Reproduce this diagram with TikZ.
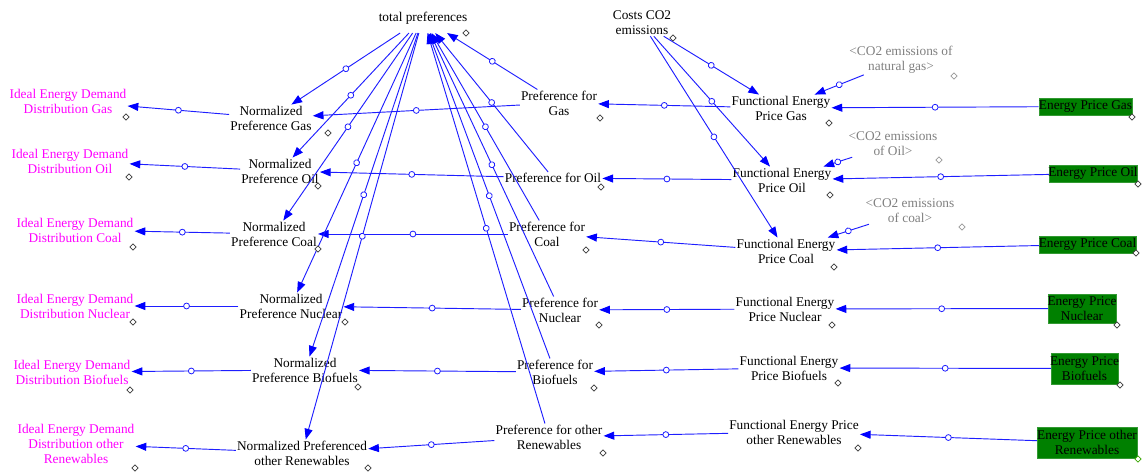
\documentclass[tikz,border=0pt]{standalone}
\usepackage{fontspec}
\setmainfont{Liberation Serif}
\usetikzlibrary{arrows.meta,decorations.markings}
\definecolor{linkblue}{RGB}{30,30,255}
\definecolor{idealpink}{RGB}{255,0,255}
\definecolor{shadowgray}{RGB}{128,128,128}
\definecolor{pricegreen}{RGB}{0,128,0}
\definecolor{markgray}{RGB}{60,60,60}
% a line of text that may overflow its green box
\newcommand{\spill}[1]{\makebox[0pt]{#1}}
\begin{document}
\begin{tikzpicture}[x=0.75pt,y=-0.75pt,
  every node/.style={font=\fontsize{10}{11.25}\selectfont},
  var/.style={align=center, inner sep=0.75pt},
  ideal/.style={var, text=idealpink},
  shadowvar/.style={var, text=shadowgray},
  pricebox/.style={align=center, fill=pricegreen, draw=pricegreen!80!white,
    line width=0.3pt, inner sep=0pt},
  link/.style={draw=linkblue, line width=0.7pt,
    -{Triangle[length=8pt,width=6pt,fill=blue,color=blue]},
    postaction={decorate},
    decoration={markings, mark=at position 0.5 with
      {\draw[draw=linkblue, fill=white, line width=0.6pt] (0,0) circle (2.2pt);}}},
  varmark/.pic={\draw[line width=0.5pt, fill=white]
    (0,-3.2) -- (3.2,0) -- (0,3.2) -- (-3.2,0) -- cycle;},
]
\useasboundingbox (0,0) rectangle (1147,473);

% ---- auxiliary and top-level variables
\node[var, inner ysep=6.5pt] (tp) at (423,18) {total preferences};
\node[var] (costs) at (642,23) {Costs CO2\\emissions};
\node[shadowvar] (co2gas) at (901,60) {<CO2 emissions of\\natural gas>};
\node[shadowvar] (co2oil) at (893,144) {<CO2 emissions\\of Oil>};
\node[shadowvar] (co2coal) at (910,211) {<CO2 emissions\\of coal>};

% ---- energy prices (levels)
\node[pricebox, minimum width=70pt, minimum height=12.75pt] (epgas) at (1085.5,106.5) {\spill{Energy Price Gas}};
\node[pricebox, minimum width=66pt, minimum height=12.75pt] (epoil) at (1093,173.5) {\spill{Energy Price Oil}};
\node[pricebox, minimum width=72.75pt, minimum height=12.75pt] (epcoal) at (1087.5,244.5) {\spill{Energy Price Coal}};
\node[pricebox, minimum width=51pt, minimum height=21.75pt] (epnuc) at (1082,308.5) {\spill{Energy Price}\\\spill{Nuclear}};
\node[pricebox, minimum width=50.25pt, minimum height=23.25pt] (epbio) at (1084.5,368.5) {\spill{Energy Price}\\\spill{Biofuels}};
\node[pricebox, minimum width=75pt, minimum height=23.25pt] (epren) at (1087,442.5) {\spill{Energy Price other}\\\spill{Renewables}};

% ---- functional energy prices
\node[var] (fepgas) at (781,108) {Functional Energy\\Price Gas};
\node[var] (fepoil) at (782,180) {Functional Energy\\Price Oil};
\node[var] (fepcoal) at (786,251) {Functional Energy\\Price Coal};
\node[var] (fepnuc) at (785,309) {Functional Energy\\Price Nuclear};
\node[var] (fepbio) at (789,368) {Functional Energy\\Price Biofuels};
\node[var] (fepren) at (794,432) {Functional Energy Price\\other Renewables};

% ---- preferences
\node[var] (prefgas) at (559,103) {Preference for\\Gas};
\node[var] (prefoil) at (553,178) {Preference for Oil};
\node[var] (prefcoal) at (547,234) {Preference for\\Coal};
\node[var] (prefnuc) at (560,310) {Preference for\\Nuclear};
\node[var] (prefbio) at (555,372) {Preference for\\Biofuels};
\node[var] (prefren) at (549,437) {Preference for other\\Renewables};

% ---- normalized preferences
\node[var] (npgas) at (271,118) {Normalized\\Preference Gas};
\node[var] (npoil) at (280,171) {Normalized\\Preference Oil};
\node[var] (npcoal) at (274,234) {Normalized\\Preference Coal};
\node[var] (npnuc) at (291,306) {Normalized\\Preference Nuclear};
\node[var] (npbio) at (305,370) {Normalized\\Preference Biofuels};
\node[var] (npren) at (302,453) {Normalized Preferenced\\other Renewables};

% ---- ideal demand distribution
\node[ideal] (idgas) at (68,101) {Ideal Energy Demand\\Distribution Gas};
\node[ideal] (idoil) at (70,161) {Ideal Energy Demand\\Distribution Oil};
\node[ideal] (idcoal) at (75,230) {Ideal Energy Demand\\Distribution Coal};
\node[ideal] (idnuc) at (75,306) {Ideal Energy Demand\\Distribution Nuclear};
\node[ideal] (idbio) at (72,372) {Ideal Energy Demand\\Distribution Biofuels};
\node[ideal] (idren) at (76,444) {Ideal Energy Demand\\Distribution other\\Renewables};

% ---- causal links
\foreach \f in {gas,oil,coal,nuc,bio,ren}{
  \draw[link] (ep\f) -- (fep\f);
  \draw[link] (fep\f) -- (pref\f);
  \draw[link] (pref\f) -- (np\f);
  \draw[link] (np\f) -- (id\f);
  \draw[link] (tp) -- (np\f);
  \draw[link] (pref\f) -- (tp);
}
\foreach \f in {gas,oil,coal}{
  \draw[link] (co2\f) -- (fep\f);
  \draw[link] (costs) -- (fep\f);
}

% ---- variable markers
\begin{scope}[color=markgray]
\foreach \p in {(466,33),(673,38),
  (829,123),(830,195),(834,267),(832,325),(838,383),(858,448),
  (1132,117),(1138,184),(1136,253),(1117,325),(1120,385),
  (600,118),(601,187),(586,250),(599,325),(594,388),(603,453),
  (328,133),(318,186),(318,249),(345,322),(358,387),(368,468),
  (126,117),(129,177),(133,247),(133,322),(130,390),(135,468)}
  \pic at \p {varmark};
\end{scope}
\begin{scope}[color=shadowgray!80!white]
\foreach \p in {(954,76),(939,160),(962,227)}
  \pic at \p {varmark};
\end{scope}
\pic[color=pricegreen!70!lime] at (1138,459) {varmark};
\end{tikzpicture}
\end{document}
